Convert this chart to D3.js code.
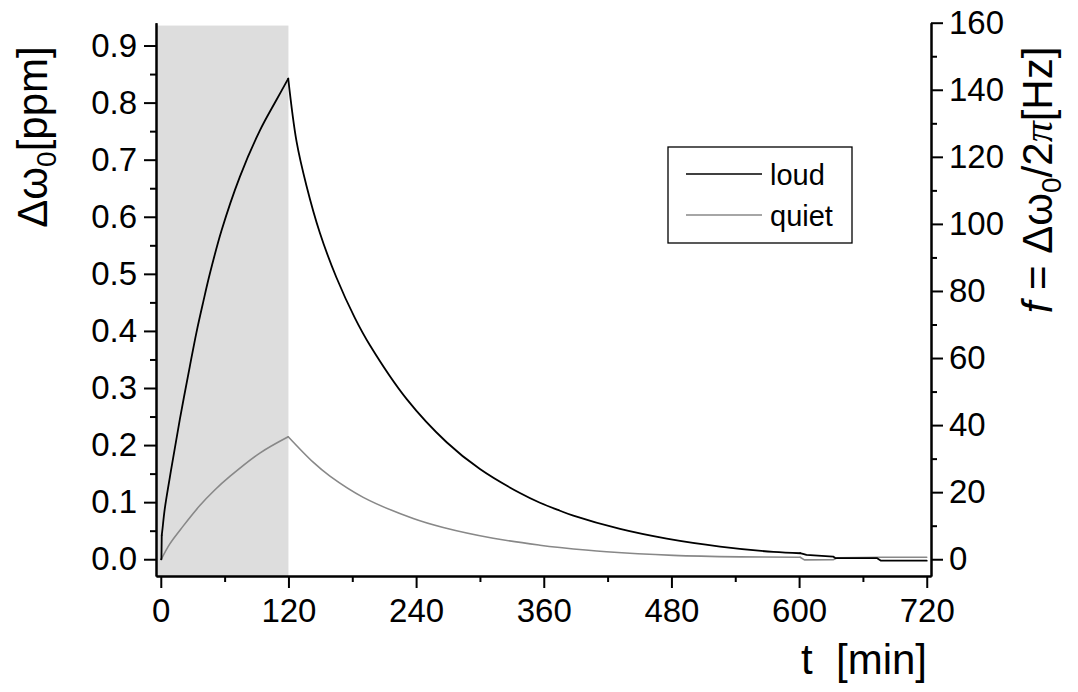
<!DOCTYPE html>
<html><head><meta charset="utf-8">
<script src="https://cdn.jsdelivr.net/npm/d3@7"></script>
<style>
body{margin:0;background:#fff}
text{font-family:"Liberation Sans",Arial,sans-serif;fill:#000}
</style>
</head><body>
<svg id="c" width="1078" height="692"></svg>
<script>
// ---- data ----
const loudT = [0.3, 0.6, 0.9, 1.6, 3.7, 10, 17.9, 27.3, 33.6, 39.8, 46.1, 57.1, 74.3, 93.1, 108.8, 119.8,
  127.6, 137, 149.5, 165, 182.4, 196.6, 231, 268.7, 300, 337.6, 356.4, 375.2, 387.8, 431.7, 475.6, 525.7,
  575.9, 601, 607, 632, 634, 673, 677, 720];
const loudV = [0.0, 0.0, 0.042, 0.053, 0.088, 0.160, 0.245, 0.338, 0.398, 0.450, 0.500, 0.576, 0.670, 0.751, 0.805, 0.842,
  0.732, 0.654, 0.572, 0.494, 0.423, 0.375, 0.281, 0.205, 0.158, 0.116, 0.099, 0.085, 0.0763, 0.053, 0.036, 0.0221,
  0.0128, 0.0105, 0.0075, 0.0046, 0.002, 0.002, -0.0025, -0.0025];
const quietT = [0.5, 8.5, 21, 36.7, 50, 64.9, 93.1, 119.8, 143.2, 159, 190.3, 237.3, 265.5, 312.5, 356.4, 375.2,
  419, 481.8, 544.5, 601, 605, 632, 636, 678, 720];
const quietV = [0.0, 0.027, 0.058, 0.094, 0.120, 0.145, 0.186, 0.2146, 0.170, 0.1455, 0.1084, 0.0714, 0.0557, 0.0368, 0.0246, 0.0205,
  0.0130, 0.0068, 0.0042, 0.0035, -0.0012, -0.001, 0.0025, 0.0035, 0.0035];
const seriesNames = ["loud", "quiet"];
const seriesColors = ["#000000", "#888888"];
// time breaks where each trace changes character (jump on, peak, stepped tail)
const loudBreaks = [0.9, 119.8, 601];
const quietBreaks = [0.5, 119.8, 601];
const pumpEnd = 120;             // end of shaded interval [min]
const xTicks = [0, 120, 240, 360, 480, 600, 720];
const xMinor = [60, 180, 300, 420, 540, 660];
const yTicks = [0, 0.1, 0.2, 0.3, 0.4, 0.5, 0.6, 0.7, 0.8, 0.9];
const yMinor = [0.05, 0.15, 0.25, 0.35, 0.45, 0.55, 0.65, 0.75, 0.85];
const fTicks = [0, 20, 40, 60, 80, 100, 120, 140, 160];
const fMinor = [10, 30, 50, 70, 90, 110, 130, 150];
const ppmTop = 0.94, hzTop = 160, hzBottom = -5;

// ---- layout ----
const svg = d3.select("#c");
const L = 156, R = 931, T = 22.7, B = 576;
const x = d3.scaleLinear().domain([-4.5, 724]).range([L, R]);
const f = d3.scaleLinear().domain([hzBottom, hzTop]).range([B, T]);
const y = d3.scaleLinear().domain([hzBottom * ppmTop / hzTop, ppmTop]).range([B, T]);

// shaded interval
svg.append("rect")
  .attr("x", x(-4.5)).attr("y", y(0.935))
  .attr("width", x(pumpEnd) - x(-4.5)).attr("height", B - y(0.935))
  .attr("fill", "#dddddd");

// lines: smooth inside segments, sharp at breaks
const smooth = d3.line().x(d => x(d[0])).y(d => y(d[1])).curve(d3.curveCatmullRom.alpha(0.5));
const sharp = d3.line().x(d => x(d[0])).y(d => y(d[1]));
function drawSeries(T, V, breaks, color, width){
  const pts = d3.zip(T, V);
  const b = [T[0], ...breaks, T[T.length - 1]];
  for (let i = 0; i < b.length - 1; i++) {
    const seg = pts.filter(p => p[0] >= b[i] && p[0] <= b[i + 1]);
    const gen = (i === 0 || i === b.length - 2) ? sharp : smooth;
    svg.append("path").datum(seg).attr("d", gen)
      .attr("fill", "none").attr("stroke", color).attr("stroke-width", width)
      .attr("stroke-linejoin", "round").attr("stroke-linecap", "round");
  }
}
drawSeries(quietT, quietV, quietBreaks, seriesColors[1], 1.6);
drawSeries(loudT, loudV, loudBreaks, seriesColors[0], 1.8);

// axes
function style(g){
  g.selectAll("path.domain").attr("stroke", "#000").attr("stroke-width", 2);
  g.selectAll(".tick line").attr("stroke", "#000").attr("stroke-width", 2);
  g.selectAll(".tick text").attr("font-size", 33).attr("font-family", "Liberation Sans, Arial, sans-serif").attr("fill", "#000");
}
svg.append("g").attr("transform", `translate(${L},0)`)
  .call(d3.axisLeft(y).tickValues(yMinor).tickSize(6).tickSizeOuter(0).tickFormat(""))
  .call(style);
svg.append("g").attr("transform", `translate(${L},0)`)
  .call(d3.axisLeft(y).tickValues(yTicks).tickSize(12).tickSizeOuter(0).tickPadding(7).tickFormat(d3.format(".1f")))
  .call(style);
svg.append("g").attr("transform", `translate(0,${B})`)
  .call(d3.axisBottom(x).tickValues(xMinor).tickSize(6).tickSizeOuter(0).tickFormat(""))
  .call(style);
svg.append("g").attr("transform", `translate(0,${B})`)
  .call(d3.axisBottom(x).tickValues(xTicks).tickSize(12).tickSizeOuter(0).tickPadding(11).tickFormat(d3.format("d")))
  .call(style);
svg.append("g").attr("transform", `translate(${R},0)`)
  .call(d3.axisRight(f).tickValues(fMinor).tickSize(6).tickSizeOuter(0).tickFormat(""))
  .call(style);
svg.append("g").attr("transform", `translate(${R},0)`)
  .call(d3.axisRight(f).tickValues(fTicks).tickSize(12).tickSizeOuter(0).tickPadding(6).tickFormat(d3.format("d")))
  .call(style);

// axis titles
const yt = svg.append("text").attr("transform", "translate(47,137) rotate(-90)")
  .attr("text-anchor", "middle").attr("font-size", 42);
yt.append("tspan").text("Δω");
yt.append("tspan").attr("font-size", 28).attr("dy", 9).text("0");
yt.append("tspan").attr("dy", -9).text("[ppm]");

const ft = svg.append("text").attr("transform", "translate(1052,180) rotate(-90)")
  .attr("text-anchor", "middle").attr("font-size", 42).style("white-space", "pre");
ft.append("tspan").attr("font-style", "italic").text("f");
ft.append("tspan").text(" = Δω");
ft.append("tspan").attr("font-size", 28).attr("dy", 9).text("0");
ft.append("tspan").attr("dy", -9).text("/2");
ft.append("tspan").attr("font-style", "italic").attr("font-family", "Liberation Serif, serif").text("π");
ft.append("tspan").text("[Hz]");

svg.append("text").attr("x", 927).attr("y", 674).attr("text-anchor", "end")
  .attr("font-size", 42).style("white-space", "pre").text("t  [min]");

// legend
const lg = svg.append("g");
lg.append("rect").attr("x", 668).attr("y", 147).attr("width", 184).attr("height", 96)
  .attr("fill", "#fff").attr("stroke", "#000").attr("stroke-width", 1.3);
seriesNames.forEach((name, i) => {
  const yy = 174 + i * 41;
  lg.append("line").attr("x1", 686).attr("x2", 762).attr("y1", yy).attr("y2", yy)
    .attr("stroke", seriesColors[i]).attr("stroke-width", i === 0 ? 1.5 : 1.3);
  lg.append("text").attr("x", 770).attr("y", yy + 11).attr("font-size", 29).text(name);
});
</script>
</body></html>
